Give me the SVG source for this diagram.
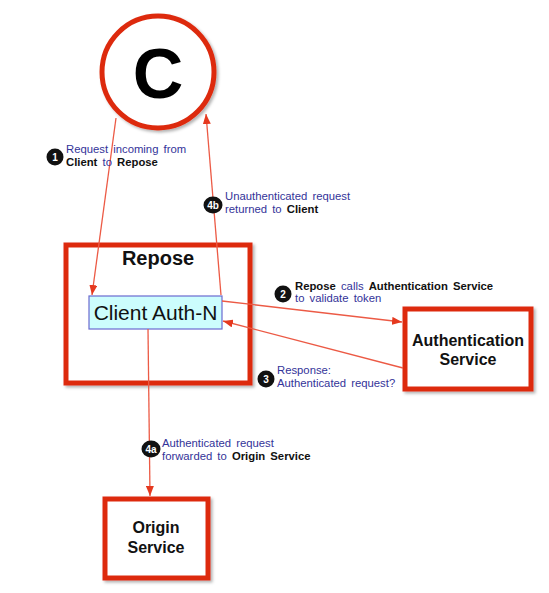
<svg xmlns="http://www.w3.org/2000/svg" width="549" height="593" viewBox="0 0 549 593">
<defs>
<filter id="sh" x="-10%" y="-10%" width="130%" height="130%">
<feDropShadow dx="2" dy="2" stdDeviation="1.5" flood-color="#000" flood-opacity="0.3"/>
</filter>
<marker id="ah" viewBox="0 0 10 8" refX="10" refY="4" markerWidth="10" markerHeight="8" markerUnits="userSpaceOnUse" orient="auto">
<path d="M0,0 L10,4 L0,8 Z" fill="#e5391f"/>
</marker>
</defs>
<style>
.box{fill:#fff;stroke:#dd2a10;stroke-width:5}
.conn{stroke:#ec5a45;stroke-width:1.3;fill:none;marker-end:url(#ah)}
.t{font-family:"Liberation Sans",Arial,sans-serif}
.lbl{font-family:"Liberation Sans",Arial,sans-serif;font-size:11.3px;fill:#333399;word-spacing:2px}
.b{font-weight:bold;fill:#111}
.badge{fill:#111}
.bt{font-family:"Liberation Sans",Arial,sans-serif;font-size:10px;font-weight:bold;fill:#fff;text-anchor:middle}
</style>
<rect width="549" height="593" fill="#fff"/>

<g id="client">
<circle cx="158" cy="72" r="56" class="box" stroke-width="4" filter="url(#sh)"/>
<text x="158" y="98" class="t" font-size="70" font-weight="bold" text-anchor="middle" fill="#000">C</text>
</g>

<g id="repose">
<rect x="66" y="245" width="184" height="138" class="box" filter="url(#sh)"/>
<text x="158" y="265" class="t" font-size="20" font-weight="bold" text-anchor="middle" fill="#111">Repose</text>
</g>

<g id="client-auth-n">
<rect x="89" y="296" width="133" height="33" fill="#ccfdfd" stroke="#6a6ad0" stroke-width="1.2"/>
<text x="155.5" y="320" class="t" font-size="21" text-anchor="middle" fill="#111">Client Auth-N</text>
</g>

<g id="auth-service">
<rect x="405" y="309" width="126" height="80" class="box" filter="url(#sh)"/>
<text x="468" y="346" class="t" font-size="16" font-weight="bold" text-anchor="middle" fill="#111">Authentication</text>
<text x="468" y="365" class="t" font-size="16" font-weight="bold" text-anchor="middle" fill="#111">Service</text>
</g>

<g id="origin-service">
<rect x="105" y="499" width="103" height="79" class="box" filter="url(#sh)"/>
<text x="156" y="533" class="t" font-size="16" font-weight="bold" text-anchor="middle" fill="#111">Origin</text>
<text x="156" y="553" class="t" font-size="16" font-weight="bold" text-anchor="middle" fill="#111">Service</text>
</g>

<g id="connectors">
<line x1="116" y1="118" x2="92" y2="295" class="conn"/>
<line x1="221" y1="295" x2="206" y2="114" class="conn"/>
<line x1="222" y1="301" x2="402" y2="322" class="conn"/>
<line x1="403" y1="368" x2="223" y2="321" class="conn"/>
<line x1="148" y1="329" x2="150" y2="496" class="conn"/>
</g>

<g id="label-1">
<circle cx="55" cy="157" r="8.5" class="badge"/>
<text x="55" y="160.5" class="bt">1</text>
<text x="66" y="153" class="lbl">Request incoming from</text>
<text x="66" y="166" class="lbl"><tspan class="b">Client</tspan> to <tspan class="b">Repose</tspan></text>
</g>

<g id="label-4b">
<ellipse cx="213" cy="205" rx="9.5" ry="8.5" class="badge"/>
<text x="213" y="208.5" class="bt">4b</text>
<text x="225" y="200" class="lbl">Unauthenticated request</text>
<text x="225" y="213" class="lbl">returned to <tspan class="b">Client</tspan></text>
</g>

<g id="label-2">
<circle cx="283" cy="294" r="8.5" class="badge"/>
<text x="283" y="297.5" class="bt">2</text>
<text x="295" y="290" class="lbl"><tspan class="b">Repose</tspan> calls <tspan class="b">Authentication Service</tspan></text>
<text x="295" y="302" class="lbl">to validate token</text>
</g>

<g id="label-3">
<circle cx="266" cy="379" r="8.5" class="badge"/>
<text x="266" y="382.5" class="bt">3</text>
<text x="277" y="374" class="lbl">Response:</text>
<text x="277" y="387" class="lbl">Authenticated request?</text>
</g>

<g id="label-4a">
<ellipse cx="151" cy="449" rx="9.5" ry="8.5" class="badge"/>
<text x="151" y="452.5" class="bt">4a</text>
<text x="162" y="447" class="lbl">Authenticated request</text>
<text x="162" y="460" class="lbl">forwarded to <tspan class="b">Origin Service</tspan></text>
</g>
</svg>
